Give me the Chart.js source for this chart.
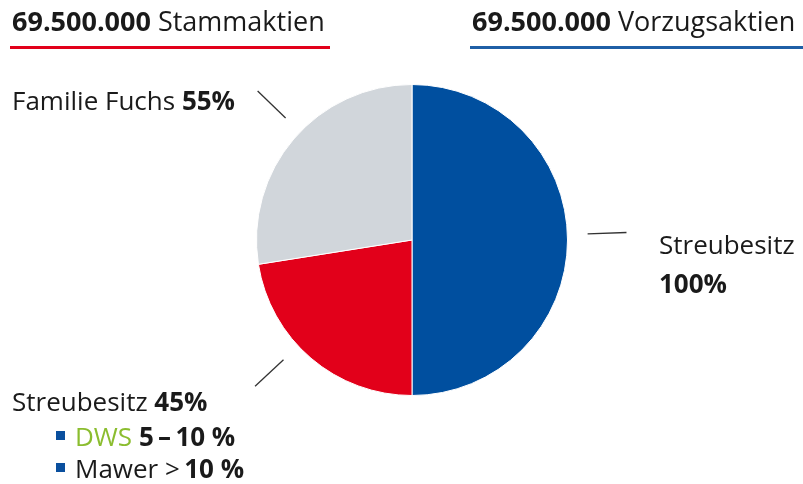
<!DOCTYPE html>
<html>
<head>
<meta charset="utf-8">
<script src="https://cdn.jsdelivr.net/npm/chart.js@4/dist/chart.umd.min.js"></script>
<style>
  html, body { margin: 0; padding: 0; background: #fff; }
  #wrap { width: 803px; height: 484px; }
</style>
</head>
<body>
<div id="wrap"><canvas id="myChart" width="803" height="484"></canvas></div>
<script>
// shares: right half = Vorzugsaktien, left half = Stammaktien (45% / 55%)
const categories = ["Vorzugsaktien Streubesitz", "Stammaktien Streubesitz", "Familie Fuchs"];
const shareCounts = [69500000, 31275000, 38225000];
const colors = ["#004f9f", "#e2001a", "#d1d6db"];

const headerLeft = ["69.500.000", " Stammaktien"];
const headerRight = ["69.500.000", " Vorzugsaktien"];
const streubesitzList = [["DWS ", "", "5\u2009\u2013\u200910\u00a0%"], ["Mawer ", ">\u2009", "10\u00a0%"]];

const FONT = "'Open Sans', 'Noto Sans', sans-serif";

// draws pieces of text, each [text, bold, color]
function drawParts(ctx, x, y, parts, size)
{
    parts.forEach(p =>
    {
        ctx.font = (p[1] ? "bold " : "") + size + "px " + FONT;
        ctx.fillStyle = p[2] || "#1a1a1a";
        ctx.fillText(p[0], x, y);
        x += ctx.measureText(p[0]).width;
    });
    return x;
}

const labelsPlugin = {
    id: "labels",
    afterDraw(chart, args, opts)
    {
        const ctx = chart.ctx;
        const arcs = chart.getDatasetMeta(0).data;
        ctx.save();
        ctx.textBaseline = "alphabetic";

        // headers + underlines
        drawParts(ctx, 12, 31, [[headerLeft[0], true], [headerLeft[1], false]], 27);
        ctx.fillStyle = "#e2001a";
        ctx.fillRect(10, 46, 320, 3);
        drawParts(ctx, 472, 31, [[headerRight[0], true], [headerRight[1], false]], 27);
        ctx.fillStyle = "#1f5fa6";
        ctx.fillRect(470, 46, 333, 3);

        // leader lines, pointing out of each slice
        ctx.strokeStyle = "#333";
        ctx.lineWidth = 1.3;
        arcs.forEach((a, i) =>
        {
            const ang = (opts.leaderAngles[i] - 90) * Math.PI / 180;
            const r = a.outerRadius;
            ctx.beginPath();
            ctx.moveTo(a.x + Math.cos(ang) * r * 1.13, a.y + Math.sin(ang) * r * 1.13);
            ctx.lineTo(a.x + Math.cos(ang) * r * 1.38, a.y + Math.sin(ang) * r * 1.38);
            ctx.stroke();
        });

        const total = shareCounts[1] + shareCounts[2];
        const pctFuchs = Math.round(shareCounts[2] / total * 100);
        const pctStreu = Math.round(shareCounts[1] / total * 100);

        drawParts(ctx, 12, 110, [["Familie Fuchs ", false], [pctFuchs + "%", true]], 26);
        drawParts(ctx, 659, 254, [["Streubesitz", false]], 26);
        drawParts(ctx, 659, 293, [["100%", true]], 26);
        drawParts(ctx, 12, 411, [["Streubesitz ", false], [pctStreu + "%", true]], 26);

        streubesitzList.forEach((item, i) =>
        {
            const y = 446 + i * 32;
            ctx.fillStyle = "#0a4f9e";
            ctx.fillRect(56, y - 15, 9, 9);
            drawParts(ctx, 75, y, [[item[0], false, i == 0 ? "#8bbd2f" : "#1a1a1a"], [item[1], false], [item[2], true]], 26);
        });
        ctx.restore();
    }
};

new Chart(document.getElementById("myChart"),
{
    type: "pie",
    data: {
        labels: categories,
        datasets: [{
            data: shareCounts,
            backgroundColor: colors,
            borderColor: "#ffffff",
            borderWidth: 1
        }]
    },
    options: {
        responsive: false,
        animation: false,
        layout: { padding: { left: 256, right: 235, top: 84, bottom: 88 } },
        plugins: {
            legend: { display: false },
            tooltip: { enabled: false },
            labels: { leaderAngles: [88, 227, 314] }
        }
    },
    plugins: [labelsPlugin]
});
</script>
</body>
</html>
